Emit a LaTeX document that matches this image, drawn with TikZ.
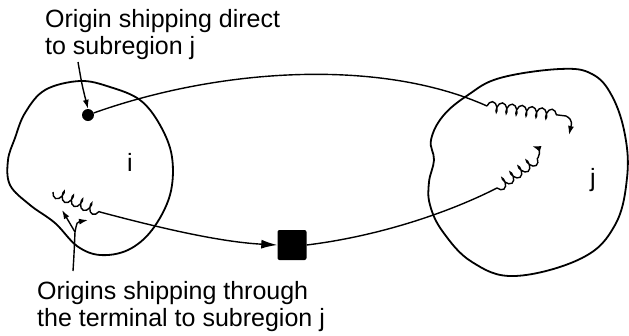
\documentclass[tikz,border=0pt]{standalone}
\usepackage{fontspec}
\setmainfont{Liberation Sans}
\usetikzlibrary{arrows.meta,decorations.pathmorphing}
\begin{document}
\begin{tikzpicture}[x=1pt,y=-1pt,
  region/.style={line width=1.8pt, line join=round},
  flow/.style={line width=1.4pt},
  tip/.style={-{Latex[length=9pt,width=6pt]}},
  bigtip/.style={-{Latex[length=16pt,width=9pt]}},
  spring/.style={line width=1.4pt, decorate,
    decoration={coil, amplitude=5pt, segment length=10pt, aspect=0.5}},
  mirrored spring/.style={spring, decoration={mirror}},
  caption/.style={font=\fontsize{25}{27}\selectfont, align=left,
    inner sep=0pt, anchor=north west},
  regionlabel/.style={font=\fontsize{25}{27}\selectfont, inner sep=0pt},
]
\useasboundingbox (0,0) rectangle (629,335);

% subregion i
\draw[region] plot[smooth cycle, tension=0.6] coordinates {
  (80,81) (110,87) (140,100) (160,125) (172,157) (170,195) (152,230)
  (128,250) (100,255) (77,246) (55,223) (30,205) (10,185) (8,160)
  (15,138) (25,113) (45,90)};

% subregion j
\draw[region] plot[smooth cycle, tension=0.65] coordinates {
  (431,140) (443,116) (468,95) (500,78) (560,69) (592,74) (612,96)
  (625,135) (627,178) (615,225) (582,258) (515,276) (472,262)
  (443,232) (430,205) (429,182) (434,160)};

% origin, terminal and labels
\node[circle, fill, inner sep=0pt, minimum size=12pt] (src) at (88,115) {};
\node[fill, rounded corners=2pt, minimum width=29pt, minimum height=30pt,
  inner sep=0pt] (term) at (292,245) {};
\node[regionlabel] (li) at (130,162) {i};
\node[regionlabel] (lj) at (593,180) {j};
\node[caption] (top) at (45,9) {Origin shipping direct\\to subregion j};
\node[caption] (bot) at (37,281) {Origins shipping through\\the terminal to subregion j};

% coil ends and pointer coordinates
\coordinate (a1) at (487,106);
\coordinate (a2) at (566,116);
\coordinate (a3) at (569,135);
\coordinate (b1) at (53,192);
\coordinate (b2) at (100,212);
\coordinate (c1) at (497,188);
\coordinate (c2) at (538,158);
\coordinate (c3) at (532,146);
\coordinate (t1) at (78,62);
\coordinate (f0) at (73,271);
\coordinate (f1) at (75,232);
\coordinate (f2) at (62,210);
\coordinate (f3) at (88,220);

% direct shipment
\draw[flow] (src) .. controls (220,68) and (380,58) .. (a1);
\draw[spring] (a1) -- (a2);
\draw[flow,tip] (a2) .. controls (574,120) and (571,126) .. (a3);

% shipment through the terminal
\draw[mirrored spring] (b1) -- (b2);
\draw[flow,bigtip] (b2) .. controls (160,228) and (220,242) .. (term.west);
\draw[flow] (term.east) .. controls (380,236) and (450,212) .. (c1);
\draw[mirrored spring] (c1) -- (c2);
\draw[flow,tip] (c2) .. controls (541,152) and (538,148) .. (c3);

% caption pointers
\draw[flow,tip] (t1) .. controls (82,85) .. (src.north);
\draw[flow] (f0) .. controls (74,255) .. (f1);
\draw[flow,tip] (f1) -- (f2);
\draw[flow,tip] (f1) .. controls (77,222) .. (f3);
\end{tikzpicture}
\end{document}
